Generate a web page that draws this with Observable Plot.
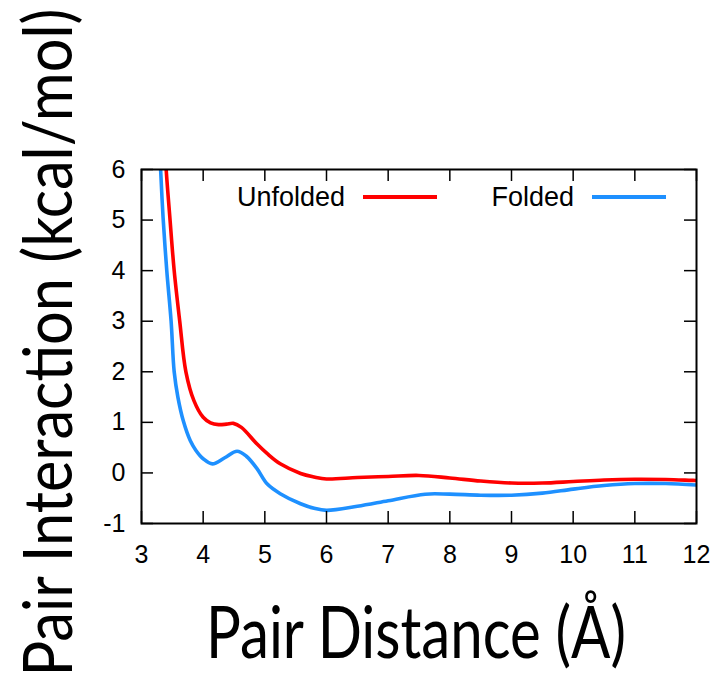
<!DOCTYPE html>
<html>
<head>
<meta charset="utf-8">
<script src="https://cdn.jsdelivr.net/npm/d3@7"></script>
<script src="https://cdn.jsdelivr.net/npm/@observablehq/plot@0.6"></script>
<style>
  html, body { margin: 0; padding: 0; background: #fff; }
  #chart { position: relative; width: 720px; height: 684px; }
</style>
</head>
<body>
<div id="chart"></div>
<script>
// ---- data ----
const xTicks = [3, 4, 5, 6, 7, 8, 9, 10, 11, 12];
const yTicks = [-1, 0, 1, 2, 3, 4, 5, 6];

const unfoldedX = [3.30, 3.40, 3.46, 3.53, 3.62, 3.72, 3.85, 4.00, 4.12, 4.25, 4.38, 4.49, 4.62, 4.87, 5.04, 5.25, 5.58, 5.80, 6.00, 6.50, 7.00, 7.50, 8.00, 8.50, 9.00, 9.50, 10.00, 10.50, 11.00, 11.50, 12.00];
const unfoldedY = [8.00, 6.00, 5.05, 4.00, 3.00, 2.00, 1.43, 1.10, 0.99, 0.955, 0.965, 0.98, 0.90, 0.575, 0.38, 0.18, -0.01, -0.08, -0.12, -0.09, -0.07, -0.05, -0.10, -0.16, -0.20, -0.20, -0.17, -0.14, -0.125, -0.13, -0.15];

const foldedX = [3.25, 3.31, 3.35, 3.41, 3.48, 3.53, 3.59, 3.68, 3.79, 3.88, 4.00, 4.15, 4.35, 4.55, 4.70, 4.87, 5.04, 5.25, 5.58, 5.80, 6.00, 6.50, 7.00, 7.60, 8.00, 8.50, 9.00, 9.50, 10.00, 10.50, 11.00, 11.50, 12.00];
const foldedY = [7.50, 6.00, 5.05, 4.00, 3.00, 2.00, 1.50, 1.02, 0.64, 0.45, 0.28, 0.18, 0.30, 0.43, 0.33, 0.09, -0.22, -0.41, -0.61, -0.70, -0.74, -0.66, -0.55, -0.42, -0.42, -0.44, -0.44, -0.40, -0.32, -0.25, -0.21, -0.21, -0.24];

const seriesNames = ["Unfolded", "Folded"];
const seriesColors = ["#ff0000", "#1e90ff"];
const xTitle = "Pair Distance (Å)";
const yTitle = "Pair Interaction (kcal/mol)";

// ---- build ----
const unfolded = unfoldedX.map((x, i) => ({x, y: unfoldedY[i]}));
const folded = foldedX.map((x, i) => ({x, y: foldedY[i]}));

const W = 720, H = 684;
const mL = 141, mR = 24, mT = 169, mB = 161;
const plotW = W - mL - mR, plotH = H - mT - mB;
const tick = 12;

const plot = Plot.plot({
  width: W,
  height: H,
  marginLeft: mL,
  marginRight: mR,
  marginTop: mT,
  marginBottom: mB,
  style: {fontFamily: "'Liberation Sans', Arial, sans-serif", fontSize: "25px", color: "#000", background: "#fff"},
  x: {domain: [3, 12], ticks: xTicks, tickSize: 0, tickPadding: 22, label: null, tickFormat: d => String(d)},
  y: {domain: [-1, 6], ticks: yTicks, tickSize: 0, tickPadding: 16, label: null, tickFormat: d => String(d)},
  marks: [
    Plot.line(unfolded, {x: "x", y: "y", stroke: seriesColors[0], strokeWidth: 3.6, curve: "catmull-rom", clip: true}),
    Plot.line(folded, {x: "x", y: "y", stroke: seriesColors[1], strokeWidth: 3.6, curve: "catmull-rom", clip: true}),
    Plot.tickX(xTicks, {x: d => d, insetTop: plotH - tick, stroke: "#000", strokeWidth: 1.5}),
    Plot.tickX(xTicks, {x: d => d, insetBottom: plotH - tick, stroke: "#000", strokeWidth: 1.5}),
    Plot.tickY(yTicks, {y: d => d, insetRight: plotW - tick, stroke: "#000", strokeWidth: 1.5}),
    Plot.tickY(yTicks, {y: d => d, insetLeft: plotW - tick, stroke: "#000", strokeWidth: 1.5}),
    Plot.frame({stroke: "#000", strokeWidth: 2})
  ]
});

document.getElementById("chart").appendChild(plot);

const svg = d3.select(plot);
const titleFont = "Lato, 'Open Sans', sans-serif";

// fit a title to a target length by choosing the font size, then stretch it across
function addTitle(text, transform, targetLen, capTarget) {
  const t = svg.append("text")
    .attr("transform", transform)
    .attr("text-anchor", "middle")
    .attr("font-family", titleFont)
    .attr("font-size", 60)
    .attr("fill", "#000")
    .text(text);
  const natural = t.node().getComputedTextLength();
  const fs = 60 * targetLen / natural;
  t.attr("font-size", fs);
  const sy = capTarget / (fs * 0.7165);
  t.attr("transform", transform + ` scale(1,${sy.toFixed(3)})`);
  return t;
}

addTitle(xTitle, "translate(416,658)", 420, 52);
addTitle(yTitle, "translate(72,342.5) rotate(-90)", 668, 49);

// legend
const legend = [
  {name: seriesNames[0], color: seriesColors[0], textRight: 345, x1: 363, x2: 437},
  {name: seriesNames[1], color: seriesColors[1], textRight: 574, x1: 592, x2: 666}
];
const lg = svg.append("g");
legend.forEach(d => {
  lg.append("text")
    .attr("x", d.textRight).attr("y", 206)
    .attr("text-anchor", "end")
    .attr("font-family", "'Liberation Sans', Arial, sans-serif")
    .attr("font-size", 27)
    .attr("fill", "#000")
    .text(d.name);
  lg.append("line")
    .attr("x1", d.x1).attr("x2", d.x2)
    .attr("y1", 197).attr("y2", 197)
    .attr("stroke", d.color)
    .attr("stroke-width", 3.8);
});
</script>
</body>
</html>
